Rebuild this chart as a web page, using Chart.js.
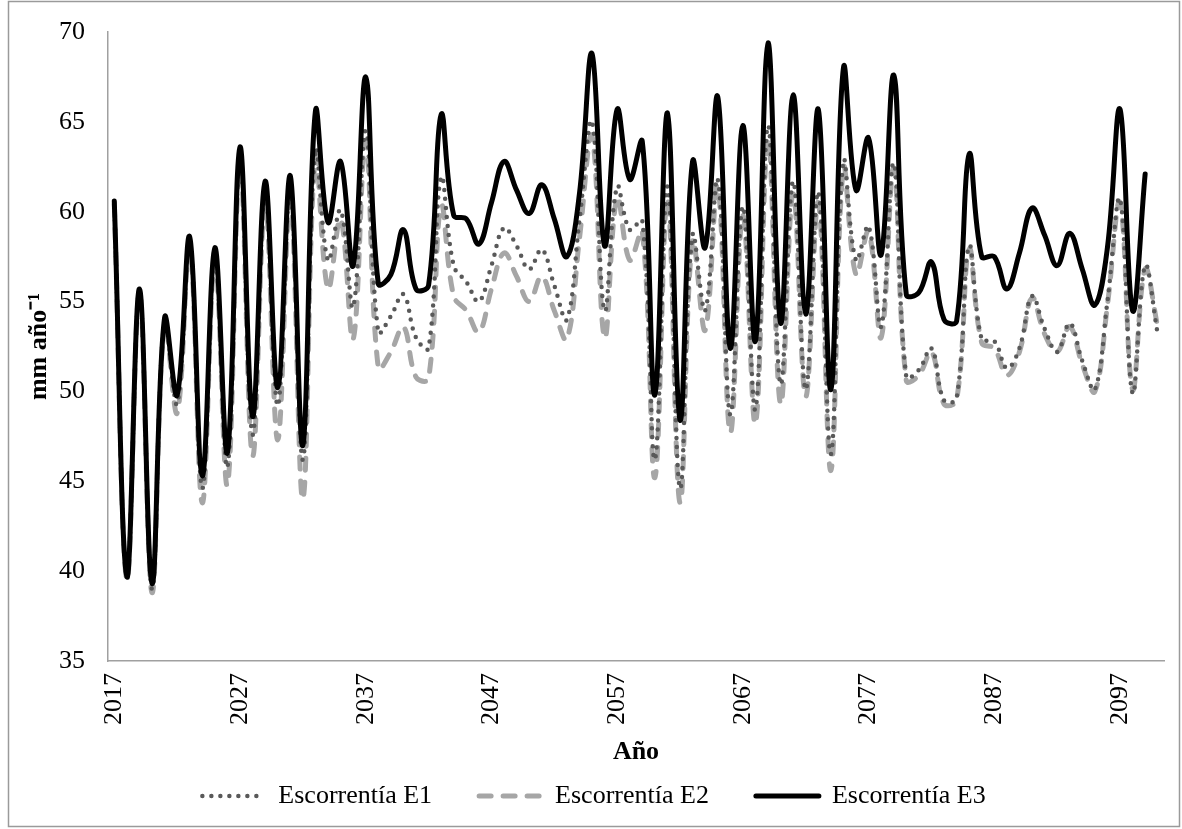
<!DOCTYPE html>
<html>
<head>
<meta charset="utf-8">
<title>Escorrentía</title>
<script src="https://cdn.jsdelivr.net/npm/chart.js@4.4.1/dist/chart.umd.min.js"></script>
<style>
  html, body { margin: 0; padding: 0; background: #fff; }
  canvas { display: block; }
</style>
</head>
<body>
<canvas id="runoffChart" width="1182" height="829"></canvas>
<script>
"use strict";

/* global Chart */

// Categories (one per year)
const years = [
    2017, 2018, 2019, 2020, 2021, 2022, 2023, 2024, 2025, 2026,
    2027, 2028, 2029, 2030, 2031, 2032, 2033, 2034, 2035, 2036,
    2037, 2038, 2039, 2040, 2041, 2042, 2043, 2044, 2045, 2046,
    2047, 2048, 2049, 2050, 2051, 2052, 2053, 2054, 2055, 2056,
    2057, 2058, 2059, 2060, 2061, 2062, 2063, 2064, 2065, 2066,
    2067, 2068, 2069, 2070, 2071, 2072, 2073, 2074, 2075, 2076,
    2077, 2078, 2079, 2080, 2081, 2082, 2083, 2084, 2085, 2086,
    2087, 2088, 2089, 2090, 2091, 2092, 2093, 2094, 2095, 2096,
    2097, 2098, 2099, 2100
];

// Year labels printed on the x axis
const shownYears = [2017, 2027, 2037, 2047, 2057, 2067, 2077, 2087, 2097];

// mm año-1
const escorrentiaE1 = [
    60.5, 39.6, 55.6, 39.0, 54.0, 49.3, 58.3, 44.6, 57.6, 45.8,
    63.0, 47.6, 61.0, 49.2, 61.3, 46.2, 63.4, 57.3, 60.1, 54.7,
    64.5, 53.3, 54.2, 55.4, 53.0, 52.4, 61.9, 57.0, 56.1, 55.0,
    57.0, 59.1, 58.1, 56.8, 57.9, 55.9, 54.0, 59.5, 65.0, 54.5,
    61.4, 59.0, 59.5, 46.2, 61.4, 44.6, 58.7, 54.5, 61.8, 48.7,
    60.3, 49.0, 64.8, 50.4, 61.7, 50.1, 61.1, 46.5, 62.8, 57.3,
    59.2, 53.6, 62.7, 50.8, 51.2, 52.4, 49.5, 49.6, 58.1, 52.9,
    52.8, 51.3, 52.4, 55.3, 53.5, 52.2, 53.8, 51.7, 50.1, 55.0,
    60.7, 49.9, 57.0, 53.2
];

const escorrentiaE2 = [
    60.4, 39.5, 55.5, 38.8, 53.8, 48.8, 58.0, 43.8, 57.2, 44.8,
    62.5, 46.4, 60.4, 47.3, 60.6, 44.0, 63.0, 55.7, 59.6, 52.9,
    63.9, 51.3, 52.2, 53.6, 50.8, 50.7, 60.3, 55.3, 54.5, 53.3,
    55.7, 57.7, 56.4, 55.0, 56.4, 54.5, 52.9, 58.5, 64.2, 53.0,
    60.8, 57.3, 58.9, 45.2, 60.7, 43.8, 58.4, 53.4, 61.4, 47.7,
    59.8, 48.2, 64.0, 49.3, 61.0, 49.7, 60.5, 45.6, 62.4, 56.5,
    58.9, 53.0, 62.4, 50.6, 50.9, 52.2, 49.3, 49.5, 57.9, 52.7,
    52.4, 50.9, 52.2, 55.2, 53.2, 52.2, 53.6, 51.5, 50.0, 54.8,
    60.5, 50.1, 56.8, 53.6
];

const escorrentiaE3 = [
    60.6, 39.7, 55.7, 39.3, 54.1, 49.8, 58.6, 45.3, 58.0, 46.6,
    63.6, 48.6, 61.7, 50.2, 62.0, 47.0, 65.6, 59.4, 62.8, 57.0,
    67.5, 56.0, 56.5, 59.0, 55.7, 55.9, 65.4, 59.8, 59.6, 58.2,
    60.5, 62.8, 61.2, 59.9, 61.5, 59.6, 57.5, 61.0, 68.8, 58.1,
    65.7, 61.8, 63.9, 49.8, 65.5, 48.4, 62.8, 58.0, 66.4, 52.4,
    64.8, 52.8, 69.4, 53.8, 66.5, 54.3, 65.7, 50.1, 68.0, 61.2,
    64.1, 57.6, 67.6, 55.4, 55.5, 57.2, 54.0, 53.9, 63.2, 57.5,
    57.5, 55.7, 57.7, 60.2, 58.7, 57.0, 58.8, 56.8, 54.8, 58.0,
    65.7, 54.5, 62.1, null
];

const FONT_FAMILY = '"Liberation Serif", "Times New Roman", serif';
const AXIS_GREY = "#a0a0a0";

// Thin grey frame round the whole chart area (Excel style)
const framePlugin = {
    id: "frame",
    beforeDraw(chart) {
        const c = chart.ctx;
        c.save();
        c.fillStyle = "#ffffff";
        c.fillRect(0, 0, chart.width, chart.height);
        c.strokeStyle = "#9a9a9a";
        c.lineWidth = 1.5;
        c.strokeRect(8.5, 1.5, chart.width - 11, chart.height - 4);
        c.restore();
    }
};

Chart.defaults.font.family = FONT_FAMILY;
Chart.defaults.font.size = 26;
Chart.defaults.color = "#000000";

// Legend samples keep each series' own line style (dots, dashes, solid)
function legendLabels(chart) {
    const items = Chart.defaults.plugins.legend.labels.generateLabels(chart);
    items.forEach(item => {
        const ds = chart.data.datasets[item.datasetIndex];
        item.lineDash = ds.borderDash || [];
        item.lineCap = ds.borderCapStyle || "butt";
        item.lineWidth = ds.borderWidth;
        item.strokeStyle = ds.borderColor;
        item.fillStyle = ds.borderColor;
    });
    return items.sort((a, b) => a.datasetIndex - b.datasetIndex);
}

const ctx = document.getElementById("runoffChart").getContext("2d");

new Chart(ctx, {
    type: "line",
    data: {
        labels: years,
        datasets: [
            {
                label: "Escorrentía E1",
                data: escorrentiaE1,
                borderColor: "#595959",
                borderWidth: 4.5,
                borderDash: [0, 9],
                borderCapStyle: "round",
                order: 1
            },
            {
                label: "Escorrentía E2",
                data: escorrentiaE2,
                borderColor: "#a6a6a6",
                borderWidth: 5,
                borderDash: [12, 12],
                borderCapStyle: "round",
                order: 2
            },
            {
                label: "Escorrentía E3",
                data: escorrentiaE3,
                borderColor: "#000000",
                borderWidth: 5,
                borderCapStyle: "round",
                order: 0
            }
        ]
    },
    options: {
        responsive: false,
        devicePixelRatio: 1,
        animation: false,
        layout: { padding: { left: 24, right: 18, top: 32, bottom: 10 } },
        elements: {
            point: { radius: 0, hoverRadius: 0 },
            line: { tension: 0.4, fill: false }
        },
        scales: {
            x: {
                offset: true,
                grid: { display: false, drawTicks: false },
                border: { display: true, color: AXIS_GREY, width: 1.5 },
                ticks: {
                    autoSkip: false,
                    minRotation: 90,
                    maxRotation: 90,
                    padding: 12,
                    font: { size: 26 },
                    callback: function (value, index) {
                        const year = years[index];
                        return shownYears.includes(year) ? String(year) : "";
                    }
                },
                title: {
                    display: true,
                    text: "Año",
                    font: { size: 26, weight: "bold" },
                    padding: { top: 0, bottom: -32 }
                },
                afterFit: function (scale) {
                    scale.height = 75;
                    scale.paddingLeft = 0;
                    scale.paddingRight = 0;
                }
            },
            y: {
                min: 35,
                max: 70,
                grid: { display: false, drawTicks: false },
                border: { display: true, color: AXIS_GREY, width: 1.5 },
                ticks: { stepSize: 5, padding: 23, font: { size: 26 } },
                title: {
                    display: true,
                    text: "mm año⁻¹",
                    font: { size: 26, weight: "bold" },
                    padding: { top: 0, bottom: 0 }
                },
                afterFit: function (scale) {
                    scale.width = 84;
                    scale.paddingTop = 0;
                    scale.paddingBottom = 0;
                }
            }
        },
        plugins: {
            legend: {
                display: true,
                position: "bottom",
                labels: {
                    usePointStyle: true,
                    pointStyle: "line",
                    pointStyleWidth: 63,
                    padding: 47,
                    font: { size: 26 },
                    generateLabels: legendLabels
                }
            },
            tooltip: { enabled: false }
        }
    },
    plugins: [framePlugin]
});
</script>
</body>
</html>
